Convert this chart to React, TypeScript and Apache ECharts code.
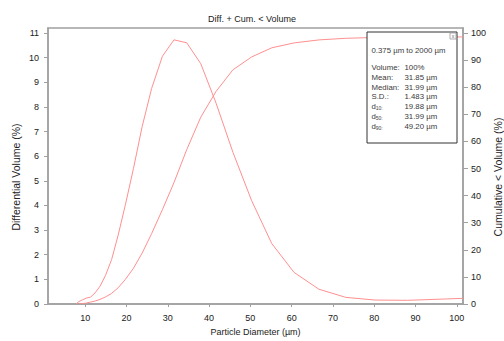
import React, { useEffect, useRef } from "react";
import * as echarts from "echarts";

// Differential volume (%) at particle diameter bins (µm)
const diffX = [7.76, 8.5, 9.36, 10.3, 11.3, 12.4, 13.6, 14.9, 16.4, 18.0, 19.7, 21.7, 23.8, 26.1, 28.7, 31.5, 34.6, 38.0, 41.7, 45.8, 50.3, 55.2, 60.6, 66.6, 73.1, 80.2, 88.1, 96.7, 101.5];
const diffY = [0.0, 0.1, 0.17, 0.24, 0.28, 0.45, 0.72, 1.15, 1.8, 2.8, 4.0, 5.5, 7.2, 8.75, 10.05, 10.72, 10.6, 9.75, 8.15, 6.15, 4.2, 2.45, 1.28, 0.6, 0.27, 0.16, 0.15, 0.2, 0.23];

// Cumulative < volume (%)
const cumX = [8.5, 9.36, 10.3, 11.3, 12.4, 13.6, 14.9, 16.4, 18.0, 19.7, 21.7, 23.8, 26.1, 28.7, 31.5, 34.6, 38.0, 41.7, 45.8, 50.3, 55.2, 60.6, 66.6, 73.1, 80.2, 88.1, 96.7, 101.5];
const cumY = [0.0, 0.15, 0.35, 0.7, 1.1, 1.7, 2.6, 3.9, 6.0, 9.0, 13.2, 18.8, 26.0, 34.8, 44.8, 57.0, 69.0, 78.5, 86.5, 91.2, 94.6, 96.4, 97.5, 98.1, 98.4, 98.5, 98.6, 98.6];

const xTicks = [10, 20, 30, 40, 50, 60, 70, 80, 90, 100];
const leftTicks = [0, 1, 2, 3, 4, 5, 6, 7, 8, 9, 10, 11];
const rightTicks = [0, 10, 20, 30, 40, 50, 60, 70, 80, 90, 100];

const titleText = "Diff. + Cum. < Volume";
const xName = "Particle Diameter (µm)";
const leftName = "Differential Volume (%)";
const rightName = "Cumulative < Volume (%)";

const statsRange = "0.375 µm to 2000 µm";
const statLabels = ["Volume:", "Mean:", "Median:", "S.D.:"];
const statValues = ["100%", "31.85 µm", "31.99 µm", "1.483 µm"];
const dLabels = ["10", "50", "90"];
const dValues = ["19.88 µm", "31.99 µm", "49.20 µm"];

const FONT = "Liberation Sans, Arial, sans-serif";
const LINE = "#ff8f8f";
const AXIS = "#a0a0a0";

export default function App() {
  const ref = useRef<HTMLDivElement>(null);
  useEffect(() => {
    if (!ref.current) return;
    const chart = echarts.init(ref.current, undefined, { renderer: "svg" });
    const textStyle = { fontFamily: FONT, fontSize: 7.8, fill: "#3a3a3a" };
    const graphics: any[] = [
      {
        type: "text",
        x: 15.5,
        y: 177,
        rotation: Math.PI / 2,
        style: { text: leftName, fontFamily: FONT, fontSize: 10.5, fill: "#222", align: "center", verticalAlign: "middle" },
      },
      {
        type: "text",
        x: 497.5,
        y: 177,
        rotation: Math.PI / 2,
        style: { text: rightName, fontFamily: FONT, fontSize: 10.5, fill: "#222", align: "center", verticalAlign: "middle" },
      },
      {
        type: "rect",
        shape: { x: 367, y: 32, width: 90, height: 111 },
        style: { fill: "#fff", stroke: "#333", lineWidth: 1 },
        z: 100,
      },
      {
        type: "rect",
        shape: { x: 450, y: 33, width: 6, height: 6 },
        style: { fill: "#fff", stroke: "#999", lineWidth: 0.8 },
        z: 101,
      },
      {
        type: "text",
        x: 453,
        y: 36,
        style: { text: "x", fontFamily: FONT, fontSize: 5, fill: "#666", align: "center", verticalAlign: "middle" },
        z: 102,
      },
      {
        type: "text",
        x: 371.5,
        y: 50,
        style: { ...textStyle, text: statsRange, verticalAlign: "middle" },
        z: 101,
      },
    ];
    const rowY0 = 67.5;
    const rowStep = 9.75;
    statLabels.forEach((l, i) => {
      graphics.push({
        type: "text", x: 371.5, y: rowY0 + i * rowStep, z: 101,
        style: { ...textStyle, text: l, verticalAlign: "middle" },
      });
      graphics.push({
        type: "text", x: 404.5, y: rowY0 + i * rowStep, z: 101,
        style: { ...textStyle, text: statValues[i], verticalAlign: "middle" },
      });
    });
    dLabels.forEach((l, j) => {
      const yy = rowY0 + (j + 4) * rowStep;
      graphics.push({
        type: "text", x: 371.5, y: yy, z: 101,
        style: { ...textStyle, text: "d", verticalAlign: "middle" },
      });
      graphics.push({
        type: "text", x: 375.8, y: yy + 1.5, z: 101,
        style: { ...textStyle, fontSize: 5, text: l + ":", verticalAlign: "middle" },
      });
      graphics.push({
        type: "text", x: 404.5, y: yy, z: 101,
        style: { ...textStyle, text: dValues[j], verticalAlign: "middle" },
      });
    });

    const axisLabel = { fontFamily: FONT, fontSize: 9, color: "#222" };
    const nameStyle = { fontFamily: FONT, fontSize: 9, color: "#222" };

    chart.setOption({
      animation: false,
      title: {
        text: titleText,
        left: "center",
        top: 9,
        textStyle: { fontFamily: FONT, fontSize: 9, fontWeight: "normal", color: "#222" },
      },
      grid: {
        left: 48, right: 41, top: 28, bottom: 34,
        show: true, borderColor: AXIS, borderWidth: 1.5, backgroundColor: "transparent",
      },
      xAxis: {
        type: "value",
        min: 1,
        max: 101.5,
        name: xName,
        nameLocation: "middle",
        nameGap: 23,
        nameTextStyle: nameStyle,
        axisLine: { lineStyle: { color: AXIS, width: 1.5 } },
        axisTick: { show: true, length: 3, lineStyle: { color: AXIS }, customValues: xTicks },
        axisLabel: { ...axisLabel, margin: 9, customValues: xTicks },
        splitLine: { show: false },
      },
      yAxis: [
        {
          type: "value",
          min: 0,
          max: 11.2,
          position: "left",
          axisLine: { show: true, lineStyle: { color: AXIS, width: 1.5 } },
          axisTick: { show: true, length: 4, lineStyle: { color: AXIS }, customValues: leftTicks },
          axisLabel: { ...axisLabel, margin: 9, customValues: leftTicks },
          splitLine: { show: false },
        },
        {
          type: "value",
          min: 0,
          max: 101.9,
          position: "right",
          axisLine: { show: true, lineStyle: { color: AXIS, width: 1.5 } },
          axisTick: { show: true, length: 5, lineStyle: { color: AXIS }, customValues: rightTicks },
          axisLabel: { ...axisLabel, margin: 8, customValues: rightTicks },
          splitLine: { show: false },
        },
      ],
      series: [
        {
          type: "line",
          yAxisIndex: 0,
          data: diffX.map((x, i) => [x, diffY[i]]),
          showSymbol: false,
          lineStyle: { color: LINE, width: 1 },
          clip: true,
        },
        {
          type: "line",
          yAxisIndex: 1,
          data: cumX.map((x, i) => [x, cumY[i]]),
          showSymbol: false,
          lineStyle: { color: LINE, width: 1 },
          clip: true,
        },
      ],
      graphic: graphics,
    });
    return () => chart.dispose();
  }, []);
  return (
    <div
      ref={ref}
      style={{ position: "fixed", left: 0, top: 0, width: 504, height: 341, background: "#fff" }}
    />
  );
}
